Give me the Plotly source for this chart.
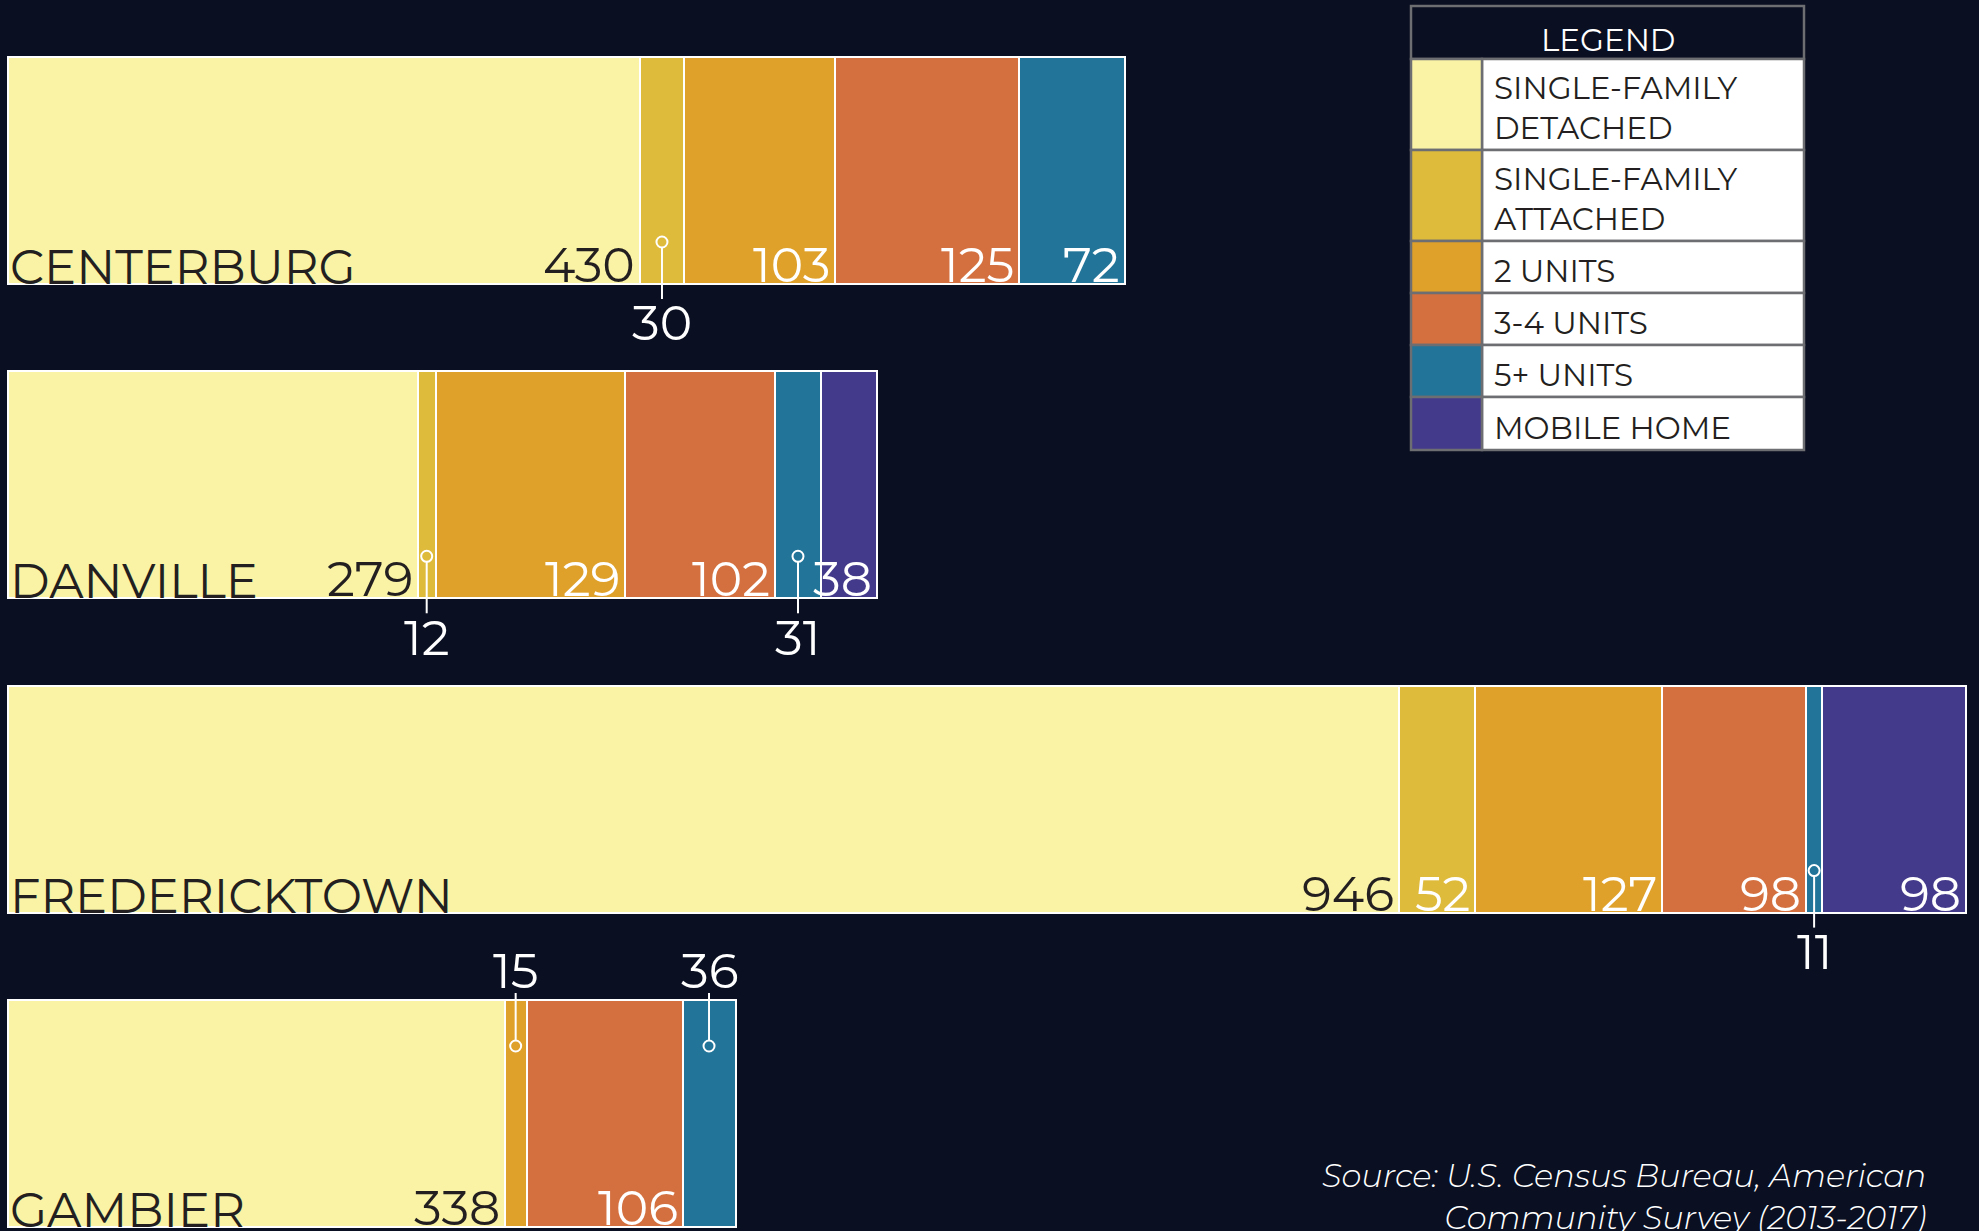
import plotly.graph_objects as go

# ---------------- data ----------------
cities = ["CENTERBURG", "DANVILLE", "FREDERICKTOWN", "GAMBIER"]
types = ["SINGLE-FAMILY DETACHED", "SINGLE-FAMILY ATTACHED", "2 UNITS",
         "3-4 UNITS", "5+ UNITS", "MOBILE HOME"]
legend_labels = ["SINGLE-FAMILY<br>DETACHED", "SINGLE-FAMILY<br>ATTACHED",
                 "2 UNITS", "3-4 UNITS", "5+ UNITS", "MOBILE HOME"]
colors = ["#faf3a6", "#dfbb3c", "#dfa12a", "#d4703f", "#227599", "#443a8c"]

sf_detached = [430, 279, 946, 338]
sf_attached = [30, 12, 52, 0]
two_units = [103, 129, 127, 15]
three_four = [125, 102, 98, 106]
five_plus = [72, 31, 11, 36]
mobile = [0, 38, 98, 0]

series = [sf_detached, sf_attached, two_units, three_four, five_plus, mobile]

# small segments labelled with a call-out: (city index, type index, side)
callouts = [(0, 1, "below"), (1, 1, "below"), (1, 4, "below"),
            (2, 4, "below"), (3, 2, "above"), (3, 4, "above")]

source_text = "Source: U.S. Census Bureau, American<br>Community Survey (2013-2017)"

# ---------------- style ----------------
W, H = 1979, 1231
BG = "#0a0f21"
DARK = "#231f20"
GREY = "#6d6e71"
FONT = "Montserrat, Roboto, sans-serif"
BW = 0.722
CITY_SIZE = 48
NUM_SIZE = 49

ypos = list(range(len(cities)))

fig = go.Figure()
for t, vals, col in zip(types, series, colors):
    fig.add_trace(go.Bar(
        x=vals, y=ypos, name=t, orientation="h", width=BW,
        marker=dict(color=col, line=dict(color="white", width=2.5)),
        hovertemplate="%{x}<extra>" + t + "</extra>",
    ))

annotations = []
shapes = []
callout_set = {(c, t) for c, t, _ in callouts}

for ci, city in enumerate(cities):
    bottom = ci + BW / 2
    annotations.append(dict(
        x=0, y=bottom, xref="x", yref="y", text=city, showarrow=False,
        xanchor="left", yanchor="bottom", xshift=0, yshift=-14,
        font=dict(family=FONT, size=CITY_SIZE, color=DARK)))
    cum = 0
    for ti, vals in enumerate(series):
        v = vals[ci]
        cum += v
        if v == 0 or (ci, ti) in callout_set:
            continue
        annotations.append(dict(
            x=cum, y=bottom, xref="x", yref="y", text=str(v), showarrow=False,
            xanchor="right", yanchor="bottom", xshift=-3, yshift=-12,
            font=dict(family=FONT, size=NUM_SIZE,
                      color=DARK if ti == 0 else "white")))

for ci, ti, side in callouts:
    start = sum(series[k][ci] for k in range(ti))
    v = series[ti][ci]
    cx = start + v / 2
    r = 5.5
    if side == "below":
        edge = ci + BW / 2
        cy = 42
        ly0, ly1 = cy - r, -15
        lab_shift = -39
    else:
        edge = ci - BW / 2
        cy = -46
        ly0, ly1 = cy + r, 7
        lab_shift = 29
    shapes.append(dict(
        type="line", xref="x", yref="y", x0=cx, x1=cx,
        ysizemode="pixel", yanchor=edge, y0=ly0, y1=ly1,
        line=dict(color="white", width=2)))
    shapes.append(dict(
        type="circle", xref="x", yref="y",
        xsizemode="pixel", xanchor=cx, x0=-r, x1=r,
        ysizemode="pixel", yanchor=edge, y0=cy - r, y1=cy + r,
        fillcolor="rgba(0,0,0,0)", line=dict(color="white", width=2)))
    annotations.append(dict(
        x=cx, y=edge, xref="x", yref="y", text=str(v), showarrow=False,
        xanchor="center", yanchor="middle", yshift=lab_shift,
        font=dict(family=FONT, size=NUM_SIZE, color="white")))

# ---------------- legend table (paper coords) ----------------
def px(x):
    return x / W

def py(y):
    return 1 - y / H

LX0, LX1, SW = 1411, 1804, 1482
row_edges = [6, 59, 150, 241, 293, 345, 397, 450]

shapes.append(dict(type="rect", xref="paper", yref="paper",
                   x0=px(LX0), x1=px(LX1), y0=py(row_edges[1]), y1=py(row_edges[0]),
                   fillcolor=BG, line=dict(color=GREY, width=2.5)))
annotations.append(dict(
    x=px((LX0 + LX1) / 2), y=py((row_edges[0] + row_edges[1]) / 2 + 7),
    xref="paper", yref="paper", text="LEGEND", showarrow=False,
    xanchor="center", yanchor="middle",
    font=dict(family=FONT, size=31, color="white")))

for i, (lab, col) in enumerate(zip(legend_labels, colors)):
    y0, y1 = row_edges[i + 1], row_edges[i + 2]
    shapes.append(dict(type="rect", xref="paper", yref="paper",
                       x0=px(SW), x1=px(LX1), y0=py(y1), y1=py(y0),
                       fillcolor="white", line=dict(color=GREY, width=2.5)))
    shapes.append(dict(type="rect", xref="paper", yref="paper",
                       x0=px(LX0), x1=px(SW), y0=py(y1), y1=py(y0),
                       fillcolor=col, line=dict(color=GREY, width=2.5)))
    annotations.append(dict(
        x=px(1492), y=py((y0 + y1) / 2 + 4), xref="paper", yref="paper",
        text=lab, showarrow=False, xanchor="left", yanchor="middle", align="left",
        font=dict(family=FONT, size=31, color=DARK)))

annotations.append(dict(
    x=px(1928), y=py(1196), xref="paper", yref="paper", text=source_text,
    showarrow=False, xanchor="right", yanchor="middle", align="right",
    font=dict(family=FONT, size=32, color="white", style="italic", weight=300)))

fig.update_layout(
    width=W, height=H, barmode="stack", showlegend=False,
    margin=dict(l=0, r=0, t=0, b=0, pad=0),
    paper_bgcolor=BG, plot_bgcolor=BG,
    xaxis=dict(visible=False, range=[-7.6 / 1.4705, (W - 7.6) / 1.4705], fixedrange=True),
    yaxis=dict(visible=False, range=[3.374, -0.5425], fixedrange=True),
    shapes=shapes, annotations=annotations,
    bargap=0,
)

fig.write_html("out.html")
